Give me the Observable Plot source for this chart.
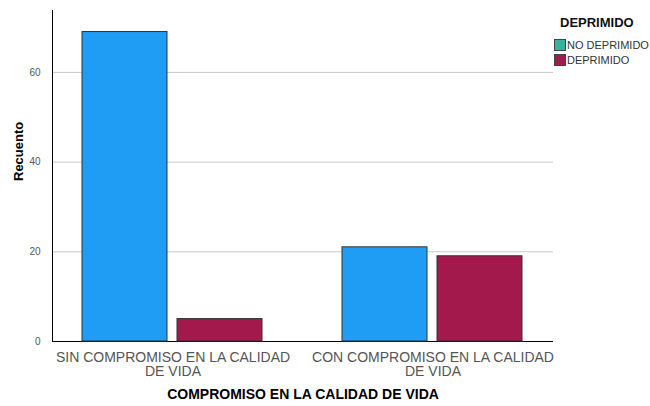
<!DOCTYPE html>
<html><head><meta charset="utf-8">
<script src="https://cdn.jsdelivr.net/npm/d3@7"></script>
<script src="https://cdn.jsdelivr.net/npm/@observablehq/plot@0.6"></script>
<style>
body{margin:0;background:#fff;font-family:"Liberation Sans",Arial,sans-serif;}
#wrap{position:relative;width:650px;height:406px;overflow:hidden;}
#wrap svg{position:absolute;left:0;top:0;}
.lg{position:absolute;white-space:nowrap;color:#333;}
.lt{left:560px;top:15px;font-size:13px;font-weight:bold;line-height:16px;color:#111;}
.sw{width:10px;height:10px;border:1px solid #444;}
.lx{font-size:11px;line-height:12px;left:567px;}
</style></head><body><div id="wrap"></div>
<script>
const categories = ["SIN COMPROMISO EN LA CALIDAD DE VIDA", "CON COMPROMISO EN LA CALIDAD DE VIDA"];
const categoryLabels = ["SIN COMPROMISO EN LA CALIDAD\nDE VIDA", "CON COMPROMISO EN LA CALIDAD\nDE VIDA"];
const series = ["NO DEPRIMIDO", "DEPRIMIDO"];
const noDeprimido = [69, 21];
const deprimido = [5, 19];
const yTicks = [0, 20, 40, 60];
const barColors = ["#1f9df5", "#a3194b"];
const legendColors = ["#35b59c", "#9e1c48"];
const yTitle = "Recuento";
const xTitle = "COMPROMISO EN LA CALIDAD DE VIDA";
const legendTitle = "DEPRIMIDO";

const data = categories.flatMap((c, i) => [
  {cat: c, grupo: series[0], n: noDeprimido[i]},
  {cat: c, grupo: series[1], n: deprimido[i]}
]);

const common = {
  width: 650, height: 406,
  marginTop: 10, marginBottom: 65, marginLeft: 52, marginRight: 97
};
const yDomain = [0, 73.8];

const base = Plot.plot({
  ...common,
  style: {fontFamily: "Liberation Sans, Arial, sans-serif", background: "transparent", color: "#444"},
  y: {domain: yDomain, axis: null},
  marks: [
    Plot.ruleY(yTicks.slice(1), {stroke: "#c9c9c9"}),
    Plot.axisY(yTicks, {tickSize: 0, tickPadding: 12, fontSize: 10, fill: "#555", label: null}),
    Plot.ruleY([0], {stroke: "#000"}),
    Plot.frame({anchor: "left", stroke: "#000"}),
    Plot.text([yTitle], {frameAnchor: "left", rotate: -90, dx: -34, dy: 5, fontSize: 13, fontWeight: "bold", fill: "#000"}),
    Plot.text([xTitle], {frameAnchor: "bottom", dy: 57, fontSize: 14, fontWeight: "bold", fill: "#000"})
  ]
});

const bars = Plot.plot({
  ...common,
  style: {fontFamily: "Liberation Sans, Arial, sans-serif", background: "transparent", color: "#555", fontSize: "14px"},
  fx: {
    domain: categories, paddingInner: 0.3027, paddingOuter: 0.113,
    axis: "bottom", tickSize: 0, tickPadding: 11, label: null,
    tickFormat: c => categoryLabels[categories.indexOf(c)]
  },
  x: {domain: series, paddingInner: 0.104, paddingOuter: 0, axis: null},
  y: {domain: yDomain, axis: null},
  color: {domain: series, range: barColors},
  marks: [
    Plot.barY(data, {fx: "cat", x: "grupo", y: "n", fill: "grupo", stroke: "#333", strokeWidth: 1})
  ]
});

const wrap = document.getElementById("wrap");
wrap.append(base, bars);

const t = document.createElement("div");
t.className = "lg lt"; t.textContent = legendTitle; wrap.append(t);
series.forEach((s, i) => {
  const sw = document.createElement("div");
  sw.className = "lg sw";
  sw.style.left = "554px"; sw.style.top = (39 + 15 * i) + "px";
  sw.style.background = legendColors[i];
  const tx = document.createElement("div");
  tx.className = "lg lx";
  tx.style.top = (38.5 + 15 * i) + "px";
  tx.textContent = s;
  wrap.append(sw, tx);
});
</script></body></html>
